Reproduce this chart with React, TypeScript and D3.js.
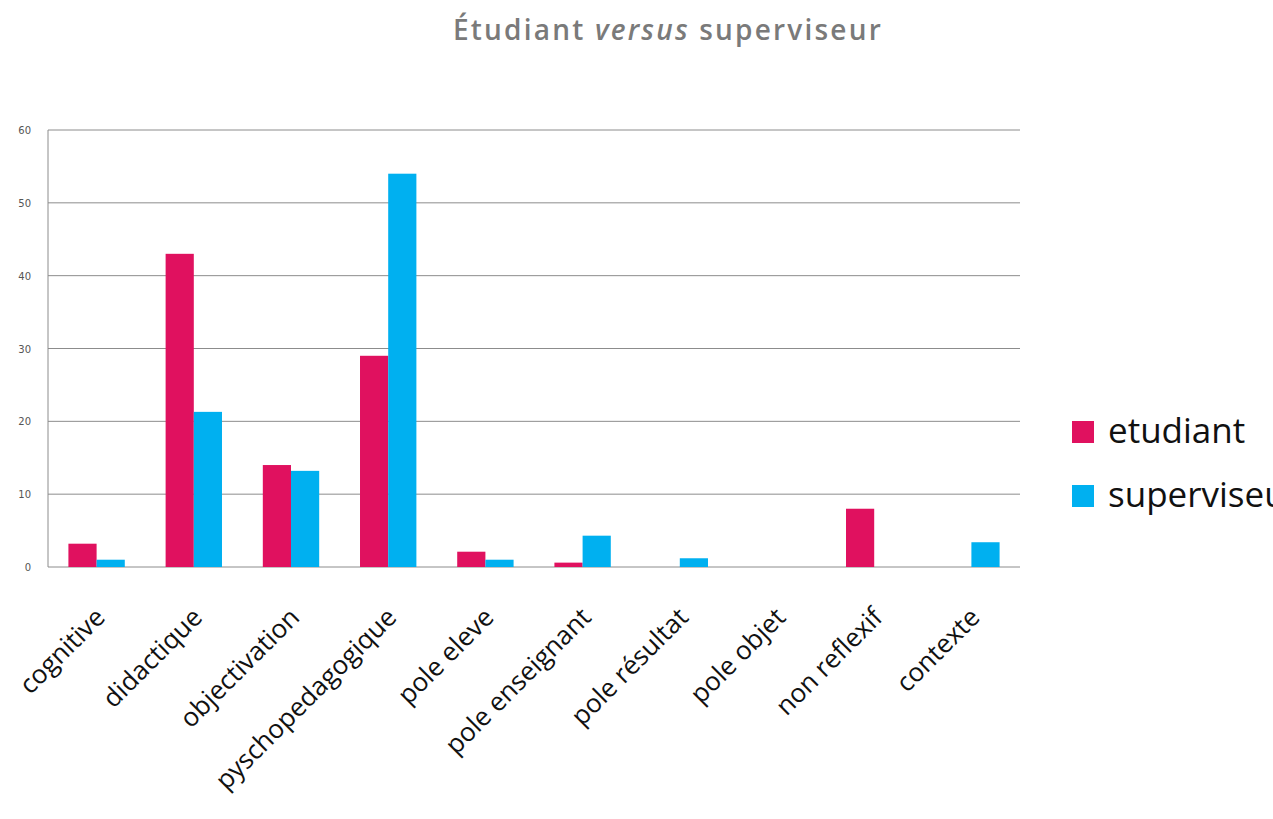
import React from "react";
import * as d3 from "d3";

const categories = [
  "cognitive",
  "didactique",
  "objectivation",
  "pyschopedagogique",
  "pole eleve",
  "pole enseignant",
  "pole résultat",
  "pole objet",
  "non reflexif",
  "contexte",
];
const etudiant = [3.2, 43, 14, 29, 2.1, 0.6, 0, 0, 8, 0];
const superviseur = [1.0, 21.3, 13.2, 54, 1.0, 4.3, 1.2, 0, 0, 3.4];
const yTicks = [0, 10, 20, 30, 40, 50, 60];
const seriesNames = ["etudiant", "superviseur"];
const seriesColours = ["#e0115f", "#00b0f0"];

const layout = { width: 1273, height: 819, left: 48, right: 1020, top: 130, bottom: 567 };

export default function App() {
  const x = d3
    .scaleBand()
    .domain(categories)
    .range([layout.left, layout.right])
    .paddingInner(0.42)
    .paddingOuter(0.21);
  const y = d3.scaleLinear().domain([0, 60]).range([layout.bottom, layout.top]);
  const bw = x.bandwidth() / 2;

  const series = [etudiant, superviseur];

  return (
    <svg
      width={layout.width}
      height={layout.height}
      style={{ position: "absolute", left: 0, top: 0, background: "#fff" }}
    >
      <text
        x={668}
        y={40}
        textAnchor="middle"
        fill="#7a7a7a"
        fontFamily="'Open Sans', sans-serif"
        fontSize={28}
        fontWeight={600}
        style={{ letterSpacing: "2.2px" }}
      >
        Étudiant <tspan fontStyle="italic">versus</tspan> superviseur
      </text>

      {yTicks.map((t) => (
        <g key={t}>
          <line
            x1={layout.left}
            x2={layout.right}
            y1={y(t)}
            y2={y(t)}
            stroke="#8c8c8c"
            strokeWidth={1}
          />
          <text
            x={31}
            y={y(t) + 4}
            textAnchor="end"
            fill="#555"
            fontFamily="'DejaVu Sans', sans-serif"
            fontSize={10}
          >
            {t}
          </text>
        </g>
      ))}
      <line
        x1={layout.left}
        x2={layout.left}
        y1={layout.top}
        y2={layout.bottom}
        stroke="#8c8c8c"
      />

      {series.map((vals, si) =>
        vals.map((v, i) =>
          v > 0 ? (
            <rect
              key={si + "-" + i}
              x={(x(categories[i]) as number) + si * bw}
              y={y(v)}
              width={bw}
              height={y(0) - y(v)}
              fill={seriesColours[si]}
            />
          ) : null
        )
      )}

      {categories.map((c) => {
        const cx = (x(c) as number) + x.bandwidth() / 2 + 10;
        return (
          <text
            key={c}
            transform={`translate(${cx},${layout.bottom + 52}) rotate(-45)`}
            textAnchor="end"
            fill="#111"
            fontFamily="'Open Sans', sans-serif"
            fontSize={26}
          >
            {c}
          </text>
        );
      })}

      {seriesNames.map((n, i) => (
        <g key={n} transform={`translate(1072,${421 + i * 64})`}>
          <rect width={22} height={22} fill={seriesColours[i]} />
          <text
            x={36}
            y={22}
            fill="#111"
            fontFamily="'Open Sans', sans-serif"
            fontSize={35}
          >
            {n}
          </text>
        </g>
      ))}
    </svg>
  );
}
